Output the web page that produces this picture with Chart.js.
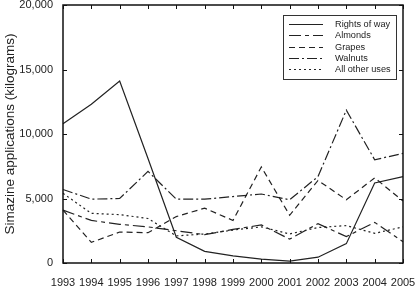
<!DOCTYPE html>
<html>
<head>
<meta charset="utf-8">
<script src="https://cdn.jsdelivr.net/npm/chart.js@4/dist/chart.umd.min.js"></script>
<style>
  html, body { margin: 0; padding: 0; background: #fff; }
  canvas { display: block; }
</style>
</head>
<body>
<canvas id="simazineChart" width="417" height="290"></canvas>
<script>
// values (kilograms)
const years = ['1993', '1994', '1995', '1996', '1997', '1998', '1999', '2000', '2001', '2002', '2003', '2004', '2005'];
const rightsOfWay = [10800, 12300, 14100, 8100, 2000, 900, 550, 300, 150, 450, 1500, 6200, 6700];
const almonds = [4100, 3300, 3000, 2800, 2500, 2200, 2600, 2950, 1850, 3050, 2050, 3150, 1650];
const grapes = [4100, 1600, 2400, 2350, 3600, 4250, 3300, 7450, 3700, 6400, 4900, 6600, 4800];
const walnuts = [5700, 4950, 5000, 7100, 4950, 4950, 5150, 5350, 4900, 6700, 11850, 8000, 8500];
const otherUses = [5400, 3850, 3750, 3450, 2100, 2250, 2550, 2800, 2250, 2750, 2900, 2300, 2800];
const yTicks = [0, 5000, 10000, 15000, 20000];

const fontFamily = '"Liberation Sans", Arial, sans-serif';
const ink = '#222';

function lineSet(label, data, dash) {
    return {
        label: label,
        data: data,
        borderColor: ink,
        borderWidth: 1.2,
        borderDash: dash,
        pointRadius: 0,
        tension: 0,
        fill: false
    };
}

//frame with inward ticks on every side, plus the boxed legend in the corner
const framePlugin = {
    id: 'frame',
    afterDatasetsDraw(chart) {
        const ctx = chart.ctx;
        const a = chart.chartArea;
        const x = chart.scales.x;
        const y = chart.scales.y;
        ctx.save();
        ctx.strokeStyle = '#111';
        ctx.lineWidth = 1.5;
        ctx.setLineDash([]);
        ctx.strokeRect(a.left, a.top, a.right - a.left, a.bottom - a.top);

        ctx.lineWidth = 1;
        ctx.beginPath();
        x.ticks.forEach((t, i) => {
            const px = Math.round(x.getPixelForTick(i)) + 0.5;
            ctx.moveTo(px, a.bottom); ctx.lineTo(px, a.bottom - 4);
            ctx.moveTo(px, a.top); ctx.lineTo(px, a.top + 4);
        });
        y.ticks.forEach((t, i) => {
            const py = Math.round(y.getPixelForTick(i)) + 0.5;
            ctx.moveTo(a.left, py); ctx.lineTo(a.left + 4, py);
            ctx.moveTo(a.right, py); ctx.lineTo(a.right - 4, py);
        });
        ctx.stroke();

        // legend box
        const bx = a.right - 120, by = a.top + 10, bw = 113, bh = 64;
        ctx.fillStyle = '#fff';
        ctx.fillRect(bx, by, bw, bh);
        ctx.strokeStyle = '#333';
        ctx.lineWidth = 1;
        ctx.strokeRect(bx + 0.5, by + 0.5, bw, bh);
        ctx.font = '9.2px ' + fontFamily;
        ctx.textBaseline = 'middle';
        ctx.fillStyle = ink;
        chart.data.datasets.forEach((ds, i) => {
            const ly = Math.round(by + 9 + i * 11.3) + 0.5;
            ctx.beginPath();
            ctx.strokeStyle = ink;
            ctx.lineWidth = 1.2;
            ctx.setLineDash(ds.borderDash || []);
            ctx.moveTo(bx + 6, ly);
            ctx.lineTo(bx + 40, ly);
            ctx.stroke();
            ctx.setLineDash([]);
            ctx.fillText(ds.label, bx + 52, ly);
        });
        ctx.restore();
    }
};

const ctx = document.getElementById('simazineChart').getContext('2d');

const simazineChart = new Chart(ctx, {
    type: 'line',
    data: {
        labels: years,
        datasets: [
            lineSet('Rights of way', rightsOfWay, []),
            lineSet('Almonds', almonds, [12, 4, 4, 4]),
            lineSet('Grapes', grapes, [6, 4]),
            lineSet('Walnuts', walnuts, [10, 3, 2, 3]),
            lineSet('All other uses', otherUses, [2, 3])
        ]
    },
    options: {
        responsive: false,
        animation: false,
        devicePixelRatio: 1,
        layout: {
            padding: { top: 5, right: 14, left: 0, bottom: 0 }
        },
        scales: {
            x: {
                type: 'category',
                offset: false,
                grid: { display: false, drawTicks: false },
                border: { display: false },
                ticks: {
                    color: ink,
                    font: { family: fontFamily, size: 11 },
                    padding: 13,
                    maxRotation: 0,
                    autoSkip: false
                },
                afterFit(scale) {
                    scale.height = 27;
                    scale.paddingLeft = 0;
                    scale.paddingRight = 0;
                }
            },
            y: {
                min: 0,
                max: 20000,
                grid: { display: false, drawTicks: false },
                border: { display: false },
                afterBuildTicks(scale) {
                    scale.ticks = yTicks.map(v => ({ value: v }));
                },
                ticks: {
                    color: ink,
                    font: { family: fontFamily, size: 11 },
                    padding: 10,
                    callback: v => v.toLocaleString('en-US')
                },
                title: {
                    display: true,
                    text: 'Simazine applications (kilograms)',
                    color: ink,
                    font: { family: fontFamily, size: 13.5 },
                    padding: { top: 2, bottom: 0 }
                },
                afterFit(scale) {
                    scale.width = 63;
                    scale.paddingTop = 0;
                    scale.paddingBottom = 0;
                }
            }
        },
        plugins: {
            legend: { display: false },
            tooltip: { enabled: false }
        }
    },
    plugins: [framePlugin]
});
</script>
</body>
</html>
